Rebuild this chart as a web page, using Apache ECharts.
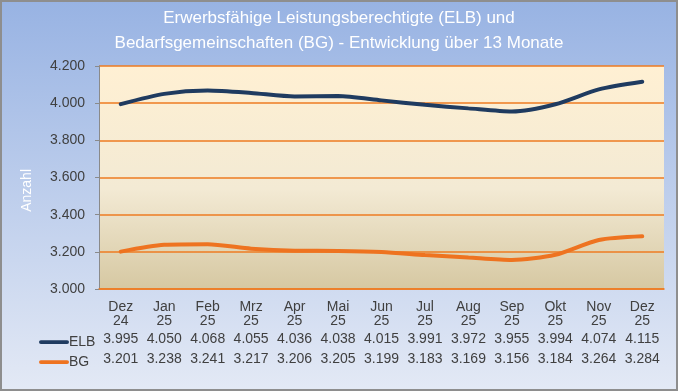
<!DOCTYPE html>
<html><head><meta charset="utf-8">
<script src="https://cdn.jsdelivr.net/npm/echarts@6/dist/echarts.min.js"></script>
<style>html,body{margin:0;padding:0;}#c{width:678px;height:391px;box-sizing:border-box;border:2px solid #8e8e8e;}</style>
</head><body><div id="c"></div>
<script>
const months = ['Dez','Jan','Feb','Mrz','Apr','Mai','Jun','Jul','Aug','Sep','Okt','Nov','Dez'];
const years = ['24','25','25','25','25','25','25','25','25','25','25','25','25'];
const elb = [3995,4050,4068,4055,4036,4038,4015,3991,3972,3955,3994,4074,4115];
const bg = [3201,3238,3241,3217,3206,3205,3199,3183,3169,3156,3184,3264,3284];
const yTicks = [3000,3200,3400,3600,3800,4000,4200];
const fmt = v => { const s = String(Math.round(v)); return s.length > 3 ? s.slice(0, s.length-3) + '.' + s.slice(-3) : s; };
const cats = months.map((m,i)=>i);
const chart = echarts.init(document.getElementById('c'));
const F = 'Liberation Sans, Arial, sans-serif';
chart.setOption({
  backgroundColor: new echarts.graphic.LinearGradient(0,0,0,1,[{offset:0,color:'#98b3e3'},{offset:1,color:'#e3e9f5'}]),
  textStyle:{fontFamily:F},
  title:{text:'Erwerbsfähige Leistungsberechtigte (ELB) und\nBedarfsgemeinschaften (BG) - Entwicklung über 13 Monate',left:'center',top:4,padding:0,
    textStyle:{color:'#ffffff',fontSize:17,fontWeight:'normal',lineHeight:25,fontFamily:F}},
  legend:{orient:'vertical',left:32,top:328,itemGap:6,itemWidth:30,itemHeight:14,icon:'path://M2,5 L30,5 A2,2 0 0 1 30,9 L2,9 A2,2 0 0 1 2,5 Z',
    textStyle:{color:'#404040',fontSize:14,padding:[0,0,0,-5]},
    data:[{name:'ELB',itemStyle:{color:'#1f3b60'}},{name:'BG',itemStyle:{color:'#ee7320'}}]},
  grid:{left:97,right:12,top:64,bottom:100,show:true,borderWidth:0,
    backgroundColor:new echarts.graphic.LinearGradient(0,0,0,1,[{offset:0,color:'#fff0d3'},{offset:0.55,color:'#f3ead4'},{offset:1,color:'#d6c8a2'}])},
  xAxis:{type:'category',data:cats,boundaryGap:true,
    axisLine:{lineStyle:{color:'#ee7b22',width:1.6}},axisTick:{show:false},
    axisLabel:{margin:11,interval:0,
      formatter:(v,i)=>'{a|'+months[i]+'}\n{a|'+years[i]+'}\n{s| }\n{b|'+fmt(elb[i])+'}\n{b|'+fmt(bg[i])+'}',
      rich:{a:{fontSize:14,lineHeight:14,color:'#404040',fontFamily:F},s:{fontSize:1,lineHeight:1},b:{fontSize:14,lineHeight:20,color:'#404040',fontFamily:F}}}},
  yAxis:{type:'value',min:3000,max:4200,interval:200,
    axisLine:{show:true,lineStyle:{color:'#8a8a8a',width:1}},
    axisTick:{show:true,length:4,lineStyle:{color:'#8a8a8a',width:1}},
    axisLabel:{formatter:fmt,color:'#404040',fontSize:14,margin:14},
    splitLine:{lineStyle:{color:'#ee7b22',width:1.6}}},
  graphic:[{type:'text',left:18,top:167,rotation:Math.PI/2,
    style:{text:'Anzahl',fill:'#ffffff',fontSize:14,fontFamily:F}}],
  series:[
    {name:'ELB',type:'line',data:elb,smooth:0.25,symbol:'none',lineStyle:{color:'#1f3b60',width:4,cap:'round'},itemStyle:{color:'#1f3b60'},z:3},
    {name:'BG',type:'line',data:bg,smooth:0.25,symbol:'none',lineStyle:{color:'#ee7320',width:4,cap:'round'},itemStyle:{color:'#ee7320'},z:3}
  ]
});
</script></body></html>
